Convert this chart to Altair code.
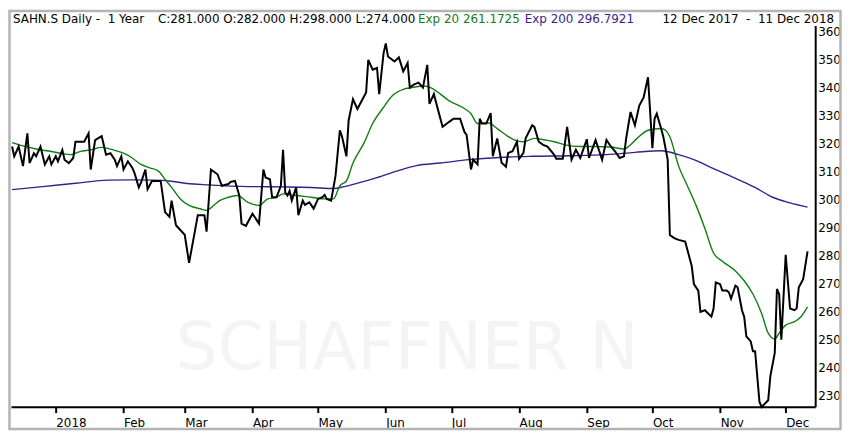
import pandas as pd
import altair as alt

# SAHN.S daily close and its two exponential averages.
# Days are counted from 12 Dec 2017, the first session shown.
start = pd.Timestamp("2017-12-12")

close_days = [
    0, 1, 3, 5, 7, 8, 10, 11, 13, 15, 17, 18, 20, 21, 23, 24, 26, 28, 29, 33,
    35, 36, 38, 41, 43, 45, 47, 48, 50, 51, 53, 55, 56, 58, 59, 61, 62, 64, 68, 70,
    72, 73, 75, 77, 79, 81, 85, 88, 89, 91, 94, 96, 99, 100, 102, 104, 105, 107, 110, 113,
    115, 116, 118, 119, 121, 123, 124, 125, 126, 127, 128, 130, 131, 133, 134, 136, 137, 138, 140, 142,
    143, 144, 146, 148, 150, 151, 153, 154, 156, 158, 160, 162, 163, 165, 167, 168, 170, 171, 172, 175,
    177, 179, 181, 182, 184, 186, 188, 190, 191, 193, 195, 197, 200, 202, 205, 207, 208, 210, 211, 213,
    214, 215, 217, 219, 220, 222, 224, 226, 227, 229, 231, 232, 234, 235, 238, 239, 241, 243, 245, 248,
    249, 252, 254, 256, 258, 260, 263, 264, 267, 270, 272, 274, 276, 278, 280, 281, 283, 285, 287, 289,
    291, 293, 294, 295, 297, 298, 300, 301, 303, 305, 308, 311, 312, 314, 315, 317, 320, 321, 322, 324,
    325, 327, 328, 329, 331, 332, 334, 335, 336, 338, 339, 340, 342, 343, 346, 347, 349, 350, 351, 352,
    354, 356, 358, 359, 360, 362, 364,
]
close_values = [
    318.9, 315.4, 318.9, 311.9, 323.6, 313.0, 316.5, 315.4, 318.9, 312.5, 315.4, 312.5, 315.4, 313.6, 317.7, 314.2, 313.0, 314.8, 320.6, 320.6,
    323.6, 310.7, 321.2, 322.6, 316.0, 316.5, 314.2, 311.9, 315.4, 310.7, 313.6, 311.3, 309.5, 304.3, 306.0, 310.7, 303.7, 306.6, 306.6, 295.5,
    293.8, 299.6, 290.8, 289.1, 287.4, 277.4, 294.4, 294.4, 288.5, 310.7, 309.0, 304.9, 305.5, 306.3, 306.6, 301.4, 291.4, 290.6, 294.9, 291.4,
    310.7, 307.8, 307.2, 300.8, 300.8, 304.9, 317.7, 302.5, 301.4, 303.1, 299.6, 304.3, 294.4, 299.6, 298.1, 299.0, 297.9, 296.7, 300.2, 300.8,
    301.6, 300.2, 299.6, 308.4, 324.7, 322.4, 315.4, 328.2, 335.8, 332.3, 335.2, 338.2, 349.8, 346.3, 346.9, 337.6, 352.2, 355.7, 351.0, 349.2,
    350.7, 345.7, 348.7, 339.9, 341.1, 341.7, 339.9, 348.0, 334.1, 337.6, 331.7, 325.9, 327.7, 328.8, 328.8, 324.1, 323.0, 310.7, 314.2, 312.5,
    328.8, 327.1, 327.1, 330.8, 315.4, 321.8, 313.1, 311.7, 316.6, 317.2, 320.6, 314.5, 316.6, 321.8, 326.5, 325.9, 320.6, 319.5, 318.9, 316.0,
    314.5, 314.5, 325.9, 314.2, 317.7, 314.8, 321.5, 314.8, 321.2, 314.2, 321.2, 318.9, 317.1, 314.8, 315.4, 321.8, 331.2, 326.5, 333.5, 336.4,
    343.6, 318.3, 328.8, 330.6, 325.3, 322.4, 314.2, 287.3, 286.2, 285.6, 285.0, 276.3, 269.8, 267.5, 259.9, 260.5, 258.2, 261.1, 270.4, 269.8,
    267.5, 267.5, 266.9, 264.6, 269.3, 268.7, 260.5, 258.2, 251.2, 249.4, 245.9, 245.9, 227.8, 226.0, 228.4, 237.1, 245.3, 268.1, 266.3, 250.0,
    280.3, 261.1, 260.5, 261.1, 268.7, 271.6, 281.5,
]

exp20_days = [
    0, 5, 11, 18, 22, 27, 31, 36, 41, 47, 51, 55, 59, 63, 67, 70, 73, 77, 81, 86,
    89, 93, 95, 99, 103, 108, 113, 117, 121, 124, 130, 137, 143, 147, 150, 153, 156, 161, 165, 170,
    174, 179, 183, 188, 191, 196, 200, 206, 210, 213, 218, 222, 226, 230, 234, 239, 244, 248, 253, 260,
    267, 274, 280, 283, 286, 291, 297, 299, 301, 305, 309, 313, 317, 321, 325, 331, 335, 339, 343, 346,
    349, 351, 354, 358, 361, 364,
]
exp20_values = [
    320.3, 319.1, 318.0, 317.1, 316.5, 316.0, 317.1, 317.7, 318.6, 317.5, 316.5, 314.8, 312.5, 311.3, 310.1, 307.2, 304.3, 300.2, 297.9, 296.7,
    296.1, 298.4, 299.6, 300.8, 301.4, 299.0, 297.9, 300.2, 300.8, 302.0, 301.4, 300.8, 300.2, 300.2, 304.9, 306.6, 313.0, 320.1, 327.1, 332.9,
    337.0, 339.3, 339.9, 340.5, 340.1, 337.6, 335.2, 332.9, 330.6, 327.1, 327.3, 325.3, 323.0, 321.2, 320.6, 321.8, 321.2, 320.6, 319.5, 318.9,
    318.9, 318.7, 318.0, 319.5, 321.8, 324.7, 325.3, 324.7, 322.4, 311.9, 304.9, 297.9, 289.7, 280.9, 278.0, 274.5, 271.0, 266.3, 259.3, 252.3,
    250.2, 252.3, 255.2, 256.4, 258.2, 261.7,
]

exp200_days = [
    0, 14, 29, 44, 55, 65, 72, 80, 90, 108, 123, 137, 147, 152, 159, 167, 176, 185, 196, 209,
    223, 238, 255, 272, 285, 297, 305, 312, 321, 332, 340, 348, 356, 364,
]
exp200_values = [
    303.5, 304.6, 305.8, 306.9, 307.0, 306.9, 306.6, 305.7, 305.2, 304.6, 304.5, 304.3, 303.9, 304.6, 306.0, 307.8, 310.1, 312.1, 313.0, 314.2,
    315.0, 315.4, 315.6, 316.0, 316.8, 317.4, 316.0, 314.2, 311.0, 307.2, 304.3, 300.8, 298.8, 297.3,
]

y_ticks = [230, 240, 250, 260, 270, 280, 290, 300, 310, 320, 330, 340, 350, 360]

header_left = "SAHN.S Daily -\u00a0 1 Year"
header_prices = "C:281.000 O:282.000 H:298.000 L:274.000"
header_exp20 = "Exp 20 261.1725"
header_exp200 = "Exp 200 296.7921"
header_range = "12 Dec 2017 \u00a0-\u00a0 11 Dec 2018"
watermark = "SCHAFFNER N"

FONT = "DejaVu Sans"
GREEN = "#127d12"
PURPLE = "#3b1d8e"


def series(days, values):
    return pd.DataFrame({
        "date": start + pd.to_timedelta(days, unit="D"),
        "value": values,
    })


x = alt.X(
    "date:T",
    scale=alt.Scale(
        domain=[
            alt.DateTime(year=2017, month=12, date=11, hours=12),
            alt.DateTime(year=2018, month=12, date=14, hours=12),
        ],
        nice=False,
    ),
    axis=alt.Axis(
        title=None,
        grid=False,
        tickCount={"interval": "month", "step": 1},
        labelExpr="month(datum.value) == 0 ? timeFormat(datum.value, '%Y') : timeFormat(datum.value, '%b')",
        labelAlign="left",
        labelBaseline="top",
        labelPadding=4.5,
        labelFlush=False,
        labelOverlap=False,
        labelFont=FONT,
        labelFontSize=12,
        labelColor="black",
        tickSize=6,
        tickWidth=2,
        tickColor="black",
        domainColor="black",
        domainWidth=2,
    ),
)
y = alt.Y(
    "value:Q",
    scale=alt.Scale(domain=[226.1, 362.1], nice=False, zero=False),
    axis=alt.Axis(
        title=None,
        orient="right",
        grid=False,
        values=y_ticks,
        ticks=False,
        labelPadding=2.5,
        labelFont=FONT,
        labelFontSize=12,
        labelColor="black",
        labelBaseline="middle",
        domainColor="black",
        domainWidth=2,
    ),
)

one = pd.DataFrame({"k": [0]})

mark_bg = alt.Chart(one).mark_text(
    font=FONT, fontSize=66, color="#f4f4f4", align="center", baseline="alphabetic"
).encode(x=alt.value(399), y=alt.value(346), text=alt.value(watermark))

slow = alt.Chart(series(exp200_days, exp200_values)).mark_line(
    color=PURPLE, strokeWidth=1.4, interpolate="monotone"
).encode(x=x, y=y)

fast = alt.Chart(series(exp20_days, exp20_values)).mark_line(
    color=GREEN, strokeWidth=1.4, interpolate="monotone"
).encode(x=x, y=y)

close = alt.Chart(series(close_days, close_values)).mark_line(
    color="black", strokeWidth=2
).encode(x=x, y=y)


def header(text, xpos, color, align="left"):
    return alt.Chart(one).mark_text(
        font=FONT, fontSize=12, color=color, align=align, baseline="alphabetic"
    ).encode(x=alt.value(xpos), y=alt.value(-2), text=alt.value(text))


frame = alt.Chart(one).mark_rect(
    fillOpacity=0, stroke="#b4b4b4", strokeWidth=2.5
).encode(
    x=alt.value(-1.5), x2=alt.value(835.5),
    y=alt.value(-14.5), y2=alt.value(406.5),
)

chart = alt.layer(
    mark_bg,
    slow,
    fast,
    close,
    header(header_left, 2, "black"),
    header(header_prices, 148, "black"),
    header(header_exp20, 410, GREEN),
    header(header_exp200, 517.5, PURPLE),
    header(header_range, 829, "black", align="right"),
    frame,
).properties(
    width=810,
    height=384,
    padding={"left": 3, "top": 16, "right": 27, "bottom": 24},
    autosize=alt.AutoSizeParams(type="none"),
    background="white",
).configure_view(strokeWidth=0)

chart.save("out.html", embed_options={"renderer": "svg", "actions": False})
